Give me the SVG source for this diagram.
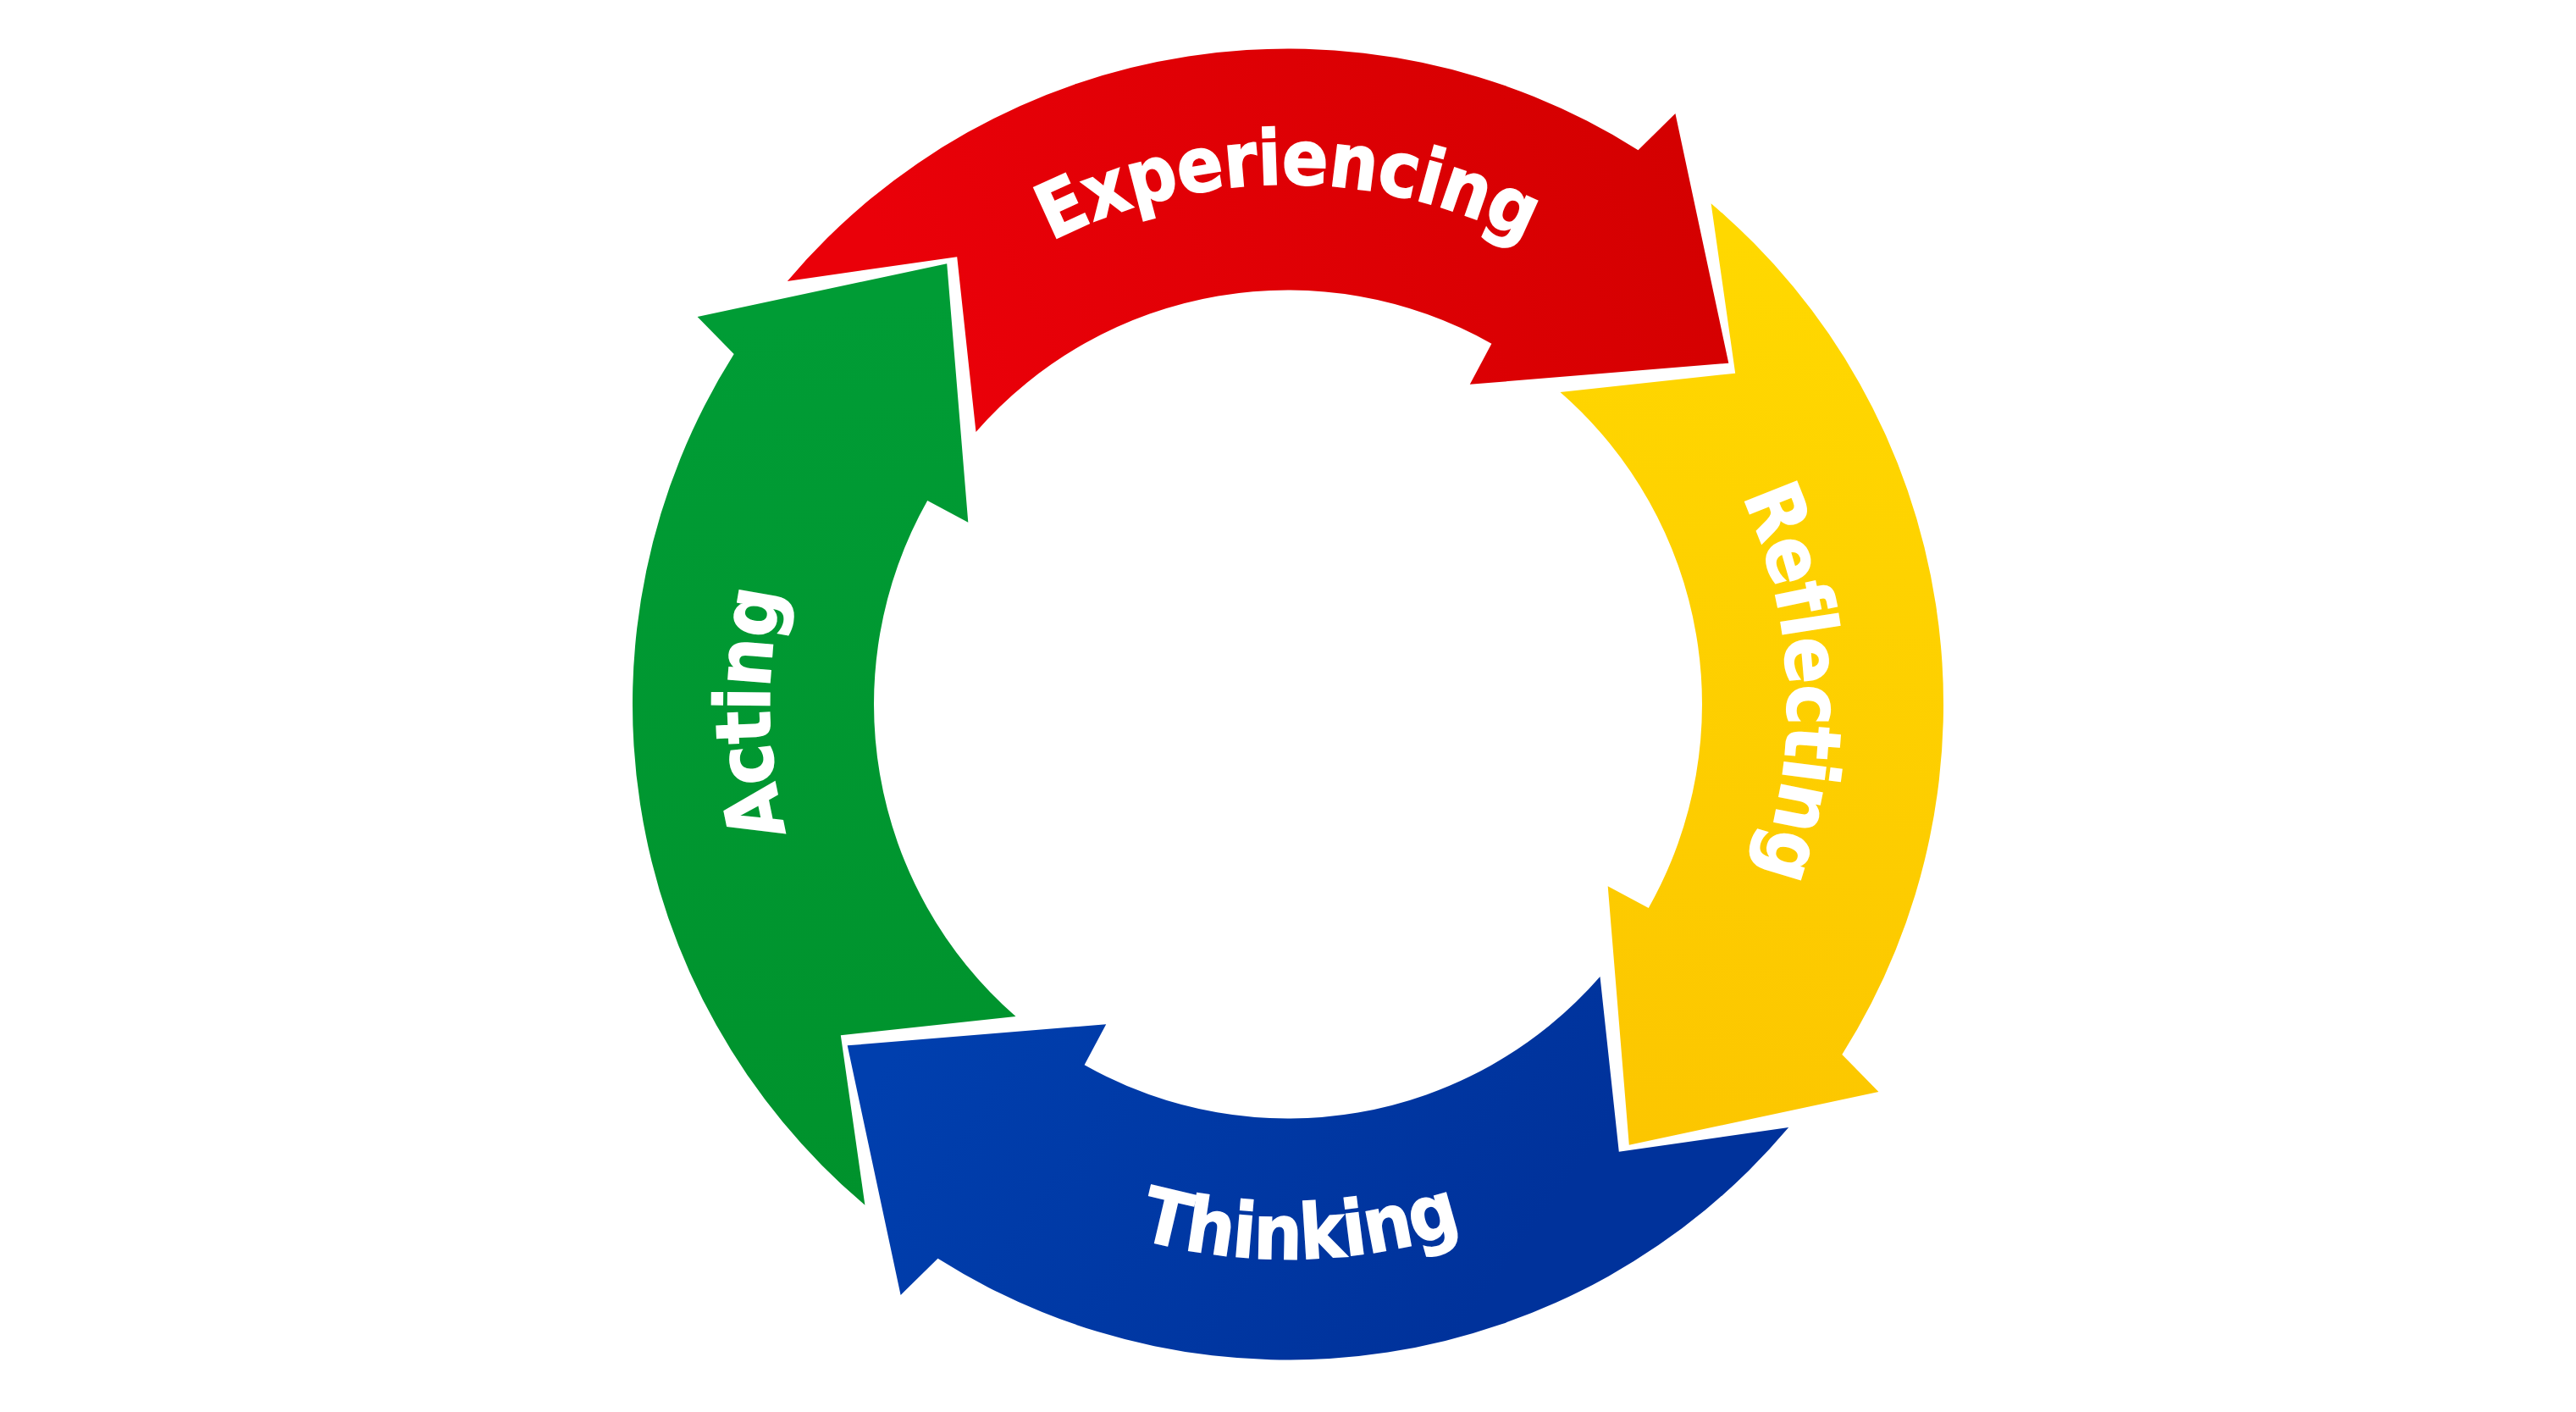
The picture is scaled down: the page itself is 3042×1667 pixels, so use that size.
<svg xmlns="http://www.w3.org/2000/svg" width="3042" height="1667" viewBox="0 0 3042 1667">
  <style>
    .label { font-family: "DejaVu Sans Condensed", "DejaVu Sans", "Liberation Sans", sans-serif; font-stretch: condensed; font-weight: bold; font-size: 90px; fill: #ffffff; stroke: #ffffff; stroke-width: 1.5px; letter-spacing: -1px; }
  </style>
  <defs>
    <linearGradient id="gRed" gradientUnits="userSpaceOnUse" x1="2000" y1="120" x2="1150" y2="520">
      <stop offset="0" stop-color="#d30000"/>
      <stop offset="1" stop-color="#ea0009"/>
    </linearGradient>
    <linearGradient id="gYellow" gradientUnits="userSpaceOnUse" x1="2150" y1="300" x2="1950" y2="1350">
      <stop offset="0" stop-color="#ffd800"/>
      <stop offset="1" stop-color="#fcc600"/>
    </linearGradient>
    <linearGradient id="gBlue" gradientUnits="userSpaceOnUse" x1="1100" y1="1180" x2="1700" y2="1610">
      <stop offset="0" stop-color="#003fae"/>
      <stop offset="1" stop-color="#00329b"/>
    </linearGradient>
    <linearGradient id="gGreen" gradientUnits="userSpaceOnUse" x1="900" y1="380" x2="1050" y2="1420">
      <stop offset="0" stop-color="#009c35"/>
      <stop offset="1" stop-color="#00922c"/>
    </linearGradient>
    <path id="tpExperiencing" d="M 989.3 524.5 A 614 614 0 0 1 2052.7 524.5"/>
    <path id="tpReflecting" d="M 1793.4 308.2 A 590 590 0 0 1 1838.0 1329.1"/>
    <path id="tpThinking" d="M 961.3 1171.8 A 655 655 0 0 0 2095.5 1146.0"/>
    <path id="tpActing" d="M 1224.3 1366.8 A 612 612 0 0 1 1205.8 306.9"/>
  </defs>
  <rect x="0" y="0" width="3042" height="1667" fill="#ffffff"/>

  <g id="connectors"/>

  <g id="experiencing">
    <path fill="url(#gRed)" d="M 929.8 331.9 A 774 774 0 0 1 1934.5 177.2 L 1978.4 134.1 L 2041.3 428.7 L 1735.8 453.8 L 1761.4 405.7 A 489 489 0 0 0 1152.5 510.0 L 1130.2 303.3 Z"/>
    <text class="label"><textPath href="#tpExperiencing" startOffset="50%" text-anchor="middle">Experiencing</textPath></text>
  </g>

  <g id="reflecting">
    <path fill="url(#gYellow)" d="M 2020.6 240.3 A 774 774 0 0 1 2175.3 1245.0 L 2218.4 1288.9 L 1923.8 1351.8 L 1898.7 1046.3 L 1946.8 1071.9 A 489 489 0 0 0 1842.5 463.0 L 2049.2 440.7 Z"/>
    <text class="label"><textPath href="#tpReflecting" startOffset="50%" text-anchor="middle">Reflecting</textPath></text>
  </g>

  <g id="thinking">
    <path fill="url(#gBlue)" d="M 2112.2 1331.1 A 774 774 0 0 1 1107.5 1485.8 L 1063.6 1528.9 L 1000.7 1234.3 L 1306.2 1209.2 L 1280.6 1257.3 A 489 489 0 0 0 1889.5 1153.0 L 1911.8 1359.7 Z"/>
    <text class="label"><textPath href="#tpThinking" startOffset="50%" text-anchor="middle">Thinking</textPath></text>
  </g>

  <g id="acting">
    <path fill="url(#gGreen)" d="M 1021.4 1422.7 A 774 774 0 0 1 866.7 418.0 L 823.6 374.1 L 1118.2 311.2 L 1143.3 616.7 L 1095.2 591.1 A 489 489 0 0 0 1199.5 1200.0 L 992.8 1222.3 Z"/>
    <text class="label"><textPath href="#tpActing" startOffset="50%" text-anchor="middle">Acting</textPath></text>
  </g>
</svg>
